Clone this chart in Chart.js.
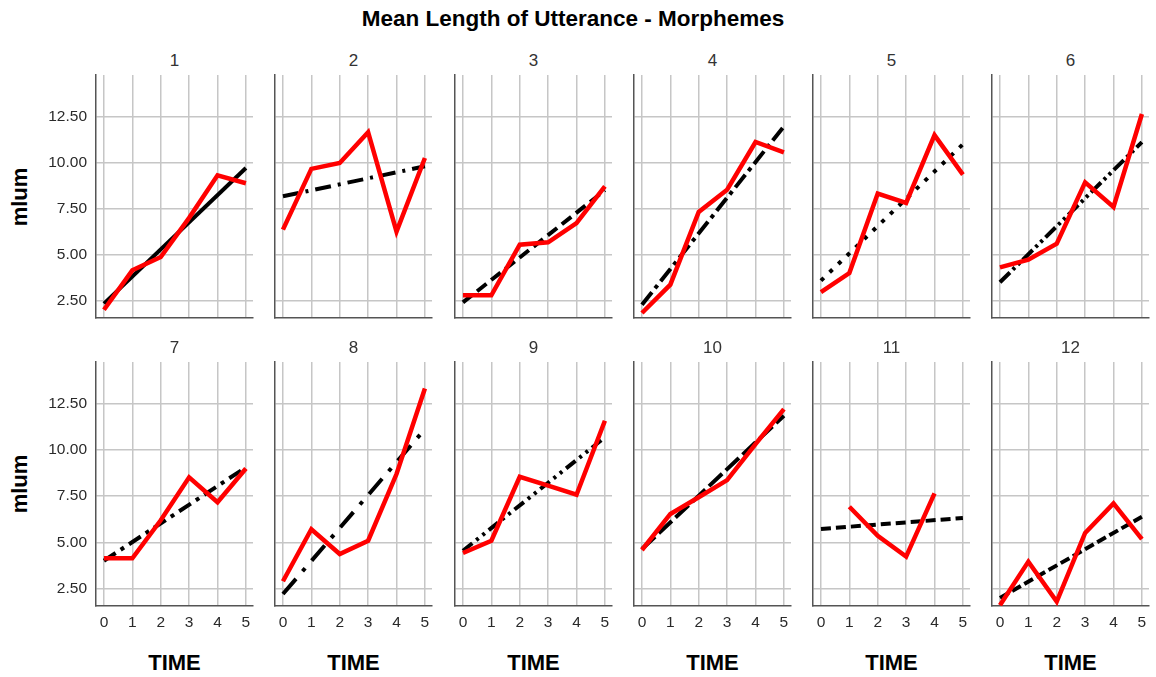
<!DOCTYPE html>
<html>
<head>
<meta charset="utf-8">
<script src="https://cdn.jsdelivr.net/npm/chart.js@4.4.0/dist/chart.umd.min.js"></script>
<style>
  html, body { margin: 0; padding: 0; background: #fff; }
  #page { position: relative; width: 1156px; height: 677px; overflow: hidden;
          font-family: "Liberation Sans", Arial, sans-serif; color: #000; }
  .txt { position: absolute; white-space: nowrap; line-height: 1; transform: translate(-50%, -50%); }
  canvas { position: absolute; }
</style>
</head>
<body>
<div id="page"></div>
<script>
// ---- data ----
const TITLE = 'Mean Length of Utterance - Morphemes';
const Y_LABEL = 'mlum';
const X_LABEL = 'TIME';
const TIME = [0, 1, 2, 3, 4, 5];
const Y_TICKS = [2.5, 5, 7.5, 10, 12.5];
const PANEL_NAMES = ['1', '2', '3', '4', '5', '6', '7', '8', '9', '10', '11', '12'];

// observed mlum per TIME
const mlum1  = [2.01, 4.15, 4.87, 7.0, 9.31, 8.88];
const mlum2  = [6.36, 9.66, 9.98, 11.65, 6.25, 10.25];
const mlum3  = [2.79, 2.79, 5.54, 5.67, 6.72, 8.71];
const mlum4  = [1.83, 3.37, 7.32, 8.53, 11.12, 10.56];
const mlum5  = [2.97, 4.0, 8.32, 7.81, 11.49, 9.35];
const mlum6  = [4.31, 4.73, 5.6, 8.93, 7.59, 12.64];
const mlum7  = [4.14, 4.14, 6.2, 8.52, 7.17, 9.0];
const mlum8  = [2.9, 5.71, 4.37, 5.09, 8.7, 13.33];
const mlum9  = [4.43, 5.09, 8.55, 8.07, 7.58, 11.58];
const mlum10 = [4.59, 6.54, 7.44, 8.37, 10.32, 12.21];
const mlum11 = [null, 6.93, 5.36, 4.23, 7.65, null];
const mlum12 = [1.6, 3.96, 1.8, 5.51, 7.11, 5.18];

// fitted trend, value at first and last TIME
const fit1  = [2.34, 9.71];
const fit2  = [8.17, 9.8];
const fit3  = [2.41, 8.5];
const fit4  = [2.28, 11.97];
const fit5  = [3.59, 11.0];
const fit6  = [3.5, 11.11];
const fit7  = [4.01, 9.06];
const fit8  = [2.21, 11.13];
const fit9  = [4.55, 10.68];
const fit10 = [4.64, 11.85];
const fit11 = [5.73, 6.32];
const fit12 = [2.0, 6.39];

const OBSERVED = [mlum1, mlum2, mlum3, mlum4, mlum5, mlum6, mlum7, mlum8, mlum9, mlum10, mlum11, mlum12];
const FITTED = [fit1, fit2, fit3, fit4, fit5, fit6, fit7, fit8, fit9, fit10, fit11, fit12];

// ---- styles & layout ----
const FIT_DASH = [
  [], [16, 7, 3, 7], [12, 6], [16, 5, 4, 5], [4, 8], [14, 4, 3, 4, 3, 4],
  [14, 6, 4, 6], [20, 10, 4, 10], [12, 5, 3, 5, 3, 5], [18, 5], [10, 5], [10, 4]
];
const COL_X = [96, 275, 455, 634, 813, 992];   // left edge of each plot area
const ROW_Y = [75, 362];                       // top edge of each plot area
const ROW_H = [243, 244];
const PLOT_W = 157;
const LEFT_GUTTER = 60, TOP_PAD = 6, RIGHT_PAD = 6, BOTTOM_GUTTER = 30;
const TICK_FONT = { family: '"Liberation Sans", Arial, sans-serif', size: 15.5, weight: 'normal' };

const page = document.getElementById('page');
function addText(text, x, y, css, rotate) {
  const d = document.createElement('div');
  d.className = 'txt';
  d.textContent = text;
  d.style.left = x + 'px';
  d.style.top = y + 'px';
  d.style.cssText += css;
  if (rotate) d.style.transform = 'translate(-50%, -50%) rotate(-90deg)';
  page.appendChild(d);
}

addText(TITLE, 573, 19, 'font-weight:bold;font-size:22.5px;');
ROW_Y.forEach((top, r) => addText(Y_LABEL, 19.5, top + ROW_H[r] / 2, 'font-weight:bold;font-size:22px;', true));

Chart.defaults.font.family = TICK_FONT.family;
Chart.defaults.font.size = TICK_FONT.size;

function noPadding(s) {
  s.paddingTop = 0; s.paddingBottom = 0; s.paddingLeft = 0; s.paddingRight = 0;
}

PANEL_NAMES.forEach((name, i) => {
  const row = Math.floor(i / 6), col = i % 6;
  const left = COL_X[col], top = ROW_Y[row], h = ROW_H[row];
  const cx = left + PLOT_W / 2;

  addText(name, cx, row === 0 ? 60 : 347, 'font-size:17px;color:#333;');
  if (row === 1) addText(X_LABEL, cx, 663, 'font-weight:bold;font-size:22px;');

  const cv = document.createElement('canvas');
  const W = LEFT_GUTTER + PLOT_W + RIGHT_PAD;
  const H = TOP_PAD + h + BOTTOM_GUTTER;
  cv.width = W; cv.height = H;
  cv.style.left = (left - LEFT_GUTTER) + 'px';
  cv.style.top = (top - TOP_PAD) + 'px';
  cv.style.width = W + 'px'; cv.style.height = H + 'px';
  page.appendChild(cv);

  const obs = OBSERVED[i], fit = FITTED[i];
  new Chart(cv, {
    type: 'line',
    data: {
      datasets: [
        {
          label: 'mlum',
          data: TIME.map((t, k) => ({ x: t, y: obs[k] })),
          borderColor: '#ff0000', borderWidth: 4.5, pointRadius: 0,
          tension: 0, spanGaps: false, order: 0, fill: false
        },
        {
          label: 'fit',
          data: [{ x: TIME[0], y: fit[0] }, { x: TIME[TIME.length - 1], y: fit[1] }],
          borderColor: '#000000', borderWidth: 4, pointRadius: 0,
          borderDash: FIT_DASH[i], tension: 0, order: 1, fill: false
        }
      ]
    },
    options: {
      responsive: false, animation: false, devicePixelRatio: 1,
      layout: { padding: { top: TOP_PAD, right: RIGHT_PAD, left: 0, bottom: 0 } },
      plugins: { legend: { display: false }, tooltip: { enabled: false }, title: { display: false } },
      scales: {
        x: {
          type: 'linear', min: -0.28, max: 5.25,
          afterBuildTicks: s => { s.ticks = TIME.map(v => ({ value: v })); },
          afterFit: s => { s.height = BOTTOM_GUTTER; noPadding(s); },
          ticks: { display: row === 1, autoSkip: false, maxRotation: 0, padding: 7,
                   color: '#2a2a2a', font: TICK_FONT, callback: v => String(v) },
          grid: { color: '#c6c6c6', lineWidth: 1.5, drawTicks: false },
          border: { display: true, color: '#555', width: 1.5 }
        },
        y: {
          type: 'linear', min: 1.56, max: 14.76,
          afterBuildTicks: s => { s.ticks = Y_TICKS.map(v => ({ value: v })); },
          afterFit: s => { s.width = LEFT_GUTTER; noPadding(s); },
          ticks: { display: col === 0, padding: 9, color: '#2a2a2a', font: TICK_FONT,
                   callback: v => Number(v).toFixed(2) },
          grid: { color: '#c6c6c6', lineWidth: 1.5, drawTicks: false },
          border: { display: true, color: '#555', width: 1.5 }
        }
      }
    }
  });
});
</script>
</body>
</html>
